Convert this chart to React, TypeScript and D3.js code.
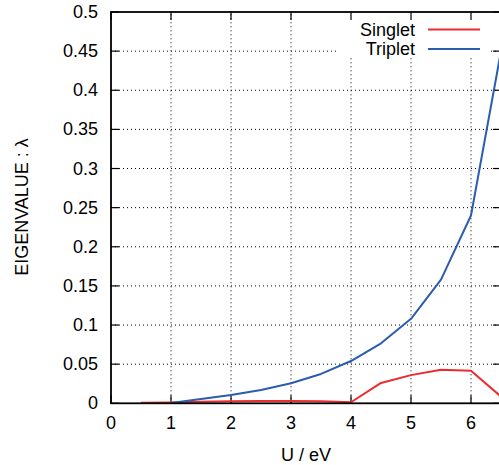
import React from "react";
import * as d3 from "d3";

const uValues = [0.5, 1, 1.5, 2, 2.5, 3, 3.5, 4, 4.5, 5, 5.5, 6, 6.5];
const singlet = [0.0008, 0.001, 0.002, 0.0025, 0.003, 0.003, 0.0025, 0.0013, 0.026, 0.036, 0.043, 0.0417, 0.0085];
const tripletU = [1, 1.5, 2, 2.5, 3, 3.5, 4, 4.5, 5, 5.5, 6, 6.5];
const triplet = [0.0005, 0.0055, 0.0106, 0.017, 0.0256, 0.0375, 0.054, 0.0767, 0.108, 0.158, 0.24, 0.45];
const xTicks = [0, 1, 2, 3, 4, 5, 6];
const yTicks = [0, 0.05, 0.1, 0.15, 0.2, 0.25, 0.3, 0.35, 0.4, 0.45, 0.5];
const seriesNames = ["Singlet", "Triplet"];
const seriesColors = ["#ec2b2e", "#2a5db0"];

const W = 499;
const H = 465;
const left = 111;
const right = 501;
const top = 12;
const bottom = 403.3;
const font = "'Liberation Sans', Arial, Helvetica, sans-serif";

export default function App() {
  const x = d3.scaleLinear().domain([0, 6.5]).range([left, right]);
  const y = d3.scaleLinear().domain([0, 0.5]).range([bottom, top]);
  const line = d3
    .line<[number, number]>()
    .x((d) => x(d[0]))
    .y((d) => y(d[1]));
  const sPts: [number, number][] = uValues.map((u, i) => [u, singlet[i]]);
  const tPts: [number, number][] = tripletU.map((u, i) => [u, triplet[i]]);

  const legX0 = 337;
  const legX1 = 488;
  const legY0 = top;
  const legY1 = 58;

  return (
    <svg
      width={W}
      height={H}
      style={{ position: "absolute", left: 0, top: 0, background: "#fff" }}
      fontFamily={font}
    >
      <rect x={0} y={0} width={W} height={H} fill="#fff" />
      {/* grid */}
      <g stroke="#000" strokeWidth={1} strokeDasharray="1,3">
        {xTicks.slice(1).map((t) => (
          <line key={"gx" + t} x1={x(t)} x2={x(t)} y1={bottom} y2={top} />
        ))}
        {yTicks.slice(1, -1).map((t) => (
          <line key={"gy" + t} x1={left} x2={right} y1={y(t)} y2={y(t)} />
        ))}
      </g>
      {/* legend background */}
      <rect x={legX0} y={legY0} width={legX1 - legX0} height={legY1 - legY0} fill="#fff" />
      {/* ticks */}
      <g stroke="#000" strokeWidth={1.2}>
        {yTicks.map((t) => (
          <g key={"ty" + t}>
            <line x1={left} x2={left + 8} y1={y(t)} y2={y(t)} />
            <line x1={right - 8} x2={right} y1={y(t)} y2={y(t)} />
          </g>
        ))}
        {xTicks.map((t) => (
          <g key={"tx" + t}>
            <line x1={x(t)} x2={x(t)} y1={bottom} y2={bottom - 8} />
            <line x1={x(t)} x2={x(t)} y1={top} y2={top + 8} />
          </g>
        ))}
      </g>
      {/* data */}
      <path d={line(sPts) || ""} fill="none" stroke={seriesColors[0]} strokeWidth={2} strokeLinejoin="round" />
      <path d={line(tPts) || ""} fill="none" stroke={seriesColors[1]} strokeWidth={2} strokeLinejoin="round" />
      {/* frame */}
      <rect x={left} y={top} width={right - left} height={bottom - top} fill="none" stroke="#000" strokeWidth={1.8} />
      {/* tick labels */}
      <g fontSize={18} fill="#000">
        {yTicks.map((t) => (
          <text key={"ly" + t} x={98} y={y(t)} textAnchor="end" dominantBaseline="central">
            {String(t)}
          </text>
        ))}
        {xTicks.map((t) => (
          <text key={"lx" + t} x={x(t)} y={423} textAnchor="middle" dominantBaseline="central">
            {String(t)}
          </text>
        ))}
        <text x={306} y={455} textAnchor="middle" dominantBaseline="central">
          U / eV
        </text>
        <text
          transform={`translate(22, 207) rotate(-90)`}
          textAnchor="middle"
          dominantBaseline="central"
        >
          EIGENVALUE : λ
        </text>
      </g>
      {/* legend */}
      <g fontSize={18}>
        {seriesNames.map((n, i) => (
          <g key={n}>
            <text x={415} y={30 + i * 19} textAnchor="end" dominantBaseline="central">
              {n}
            </text>
            <line x1={428} x2={480} y1={29.5 + i * 19.5} y2={29.5 + i * 19.5} stroke={seriesColors[i]} strokeWidth={2} />
          </g>
        ))}
      </g>
    </svg>
  );
}
